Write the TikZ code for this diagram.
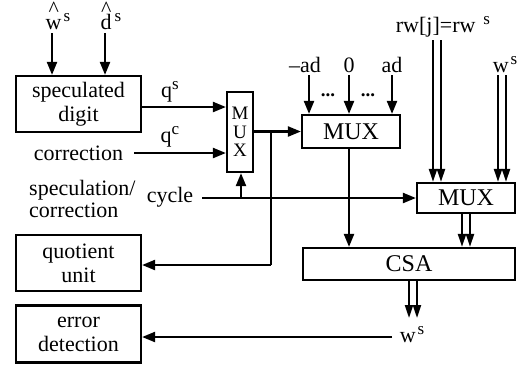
\documentclass[tikz,border=0pt]{standalone}
\usepackage{fontspec}
\setmainfont{Liberation Serif}
\usetikzlibrary{arrows.meta}
\newcommand{\upS}[1]{\raisebox{8pt}{\fontsize{17}{17}\selectfont #1}}
\newcommand{\hatted}[1]{\leavevmode\vbox{\offinterlineskip\halign{\hfil##\hfil\cr\textasciicircum\cr\noalign{\kern-3pt}\vphantom{d}#1\cr}}}
\begin{document}
\begin{tikzpicture}[x=1pt,y=-1pt,
  font=\fontsize{22}{24}\selectfont,
  box/.style={draw, line width=2.2pt, inner sep=0pt, align=center},
  lbl/.style={inner sep=0pt, align=center},
  ln/.style={line width=2.2pt},
  arr/.style={line width=2.2pt, -{Triangle[length=13pt,width=10pt]}},
  darr/.style={line width=2pt, -{Triangle[length=13pt,width=8pt]}}]
\useasboundingbox (0,0) rectangle (522,365);
% boxes
\node[box, minimum width=125pt, minimum height=56pt] (spec) at (78.5,104) {speculated\\digit};
\node[box, minimum width=125pt, minimum height=56pt] (quot) at (78.5,263) {quotient\\unit};
\node[box, minimum width=125pt, minimum height=57pt] (err) at (78.5,334) {error\\detection};
\node[box, minimum width=26pt, minimum height=80pt, font=\fontsize{19}{18.5}\selectfont] (smux) at (240,132) {M\\U\\X};
\node[box, minimum width=98pt, minimum height=33pt, font=\fontsize{24}{24}\selectfont] (mmux) at (351,131.5) {MUX};
\node[box, minimum width=98pt, minimum height=30pt, font=\fontsize{24}{24}\selectfont] (rmux) at (466,198) {MUX};
\node[box, minimum width=212pt, minimum height=32pt, font=\fontsize{24}{24}\selectfont] (csa) at (409,264) {CSA};
% labels
\node[lbl] (wsl) at (58,16) {\hatted{w}\hspace{2pt}\upS{s}};
\node[lbl] (dsl) at (111,16) {\hatted{d}\hspace{3pt}\upS{s}};
\node[lbl] (qsl) at (170,92) {q\upS{s}};
\node[lbl] (qcl) at (170,137) {q\upS{c}};
\node[lbl] (corr) at (78.5,153) {correction};
\node[lbl, align=left, anchor=west, font=\fontsize{22}{22}\selectfont] (spcl) at (29,199) {speculation/\\correction};
\node[lbl] (cyc) at (170,197) {cycle};
\node[lbl] (mad) at (305,65) {\textendash ad};
\node[lbl] (zero) at (349,65) {0};
\node[lbl] (pad) at (392,65) {ad};
\node[lbl, font=\bfseries\fontsize{19}{19}\selectfont] (dots1) at (328,95) {...};
\node[lbl, font=\bfseries\fontsize{19}{19}\selectfont] (dots2) at (368,95) {...};
\node[lbl] (rwl) at (443,27) {rw[j]=rw\hspace{8pt}\upS{s}};
\node[lbl] (wsr) at (505,65) {w\hspace{2pt}\upS{s}};
\node[lbl] (wsb) at (412,335) {w\hspace{2pt}\upS{s}};
% coordinates
\coordinate (ws1) at (52,33);
\coordinate (ds1) at (105,33);
\coordinate (corr1) at (134,153);
\coordinate (cyc1) at (202,198);
\coordinate (cycj) at (241,198);
\coordinate (junc) at (271,131.5);
\coordinate (qdown) at (271,265);
\coordinate (mad1) at (309,75);
\coordinate (zero1) at (349,75);
\coordinate (pad1) at (392,75);
\coordinate (rwa) at (433,40);
\coordinate (rwb) at (441,40);
\coordinate (wra) at (498,75);
\coordinate (wrb) at (506,75);
\coordinate (rma) at (462,213);
\coordinate (rmb) at (470,213);
\coordinate (csaa) at (409,280);
\coordinate (csab) at (417,280);
\coordinate (csae) at (409,318);
\coordinate (csaf) at (417,318);
\coordinate (wsb1) at (392,337);
% connectors
\draw[arr] (ws1) -- (ws1 |- spec.north);
\draw[arr] (ds1) -- (ds1 |- spec.north);
\draw[arr] ([yshift=-3pt]spec.east) -- ([yshift=-3pt]spec.east -| smux.west);
\draw[arr] (corr1) -- (corr1 -| smux.west);
\draw[arr] (cyc1) -- (rmux.west);
\draw[arr] (cycj) -- (cycj |- smux.south);
\draw[arr] (smux.east |- junc) -- (mmux.west);
\draw[ln] (junc) -- (qdown);
\draw[arr] (qdown) -- (qdown -| quot.east);
\draw[arr] (mad1) -- (mad1 |- mmux.north);
\draw[arr] (zero1) -- (zero1 |- mmux.north);
\draw[arr] (pad1) -- (pad1 |- mmux.north);
\draw[arr] (zero1 |- mmux.south) -- (zero1 |- csa.north);
\draw[darr] (rwa) -- (rwa |- rmux.north);
\draw[darr] (rwb) -- (rwb |- rmux.north);
\draw[darr] (wra) -- (wra |- rmux.north);
\draw[darr] (wrb) -- (wrb |- rmux.north);
\draw[darr] (rma) -- (rma |- csa.north);
\draw[darr] (rmb) -- (rmb |- csa.north);
\draw[darr] (csaa) -- (csae);
\draw[darr] (csab) -- (csaf);
\draw[arr] (wsb1) -- (wsb1 -| err.east);
\end{tikzpicture}
\end{document}
